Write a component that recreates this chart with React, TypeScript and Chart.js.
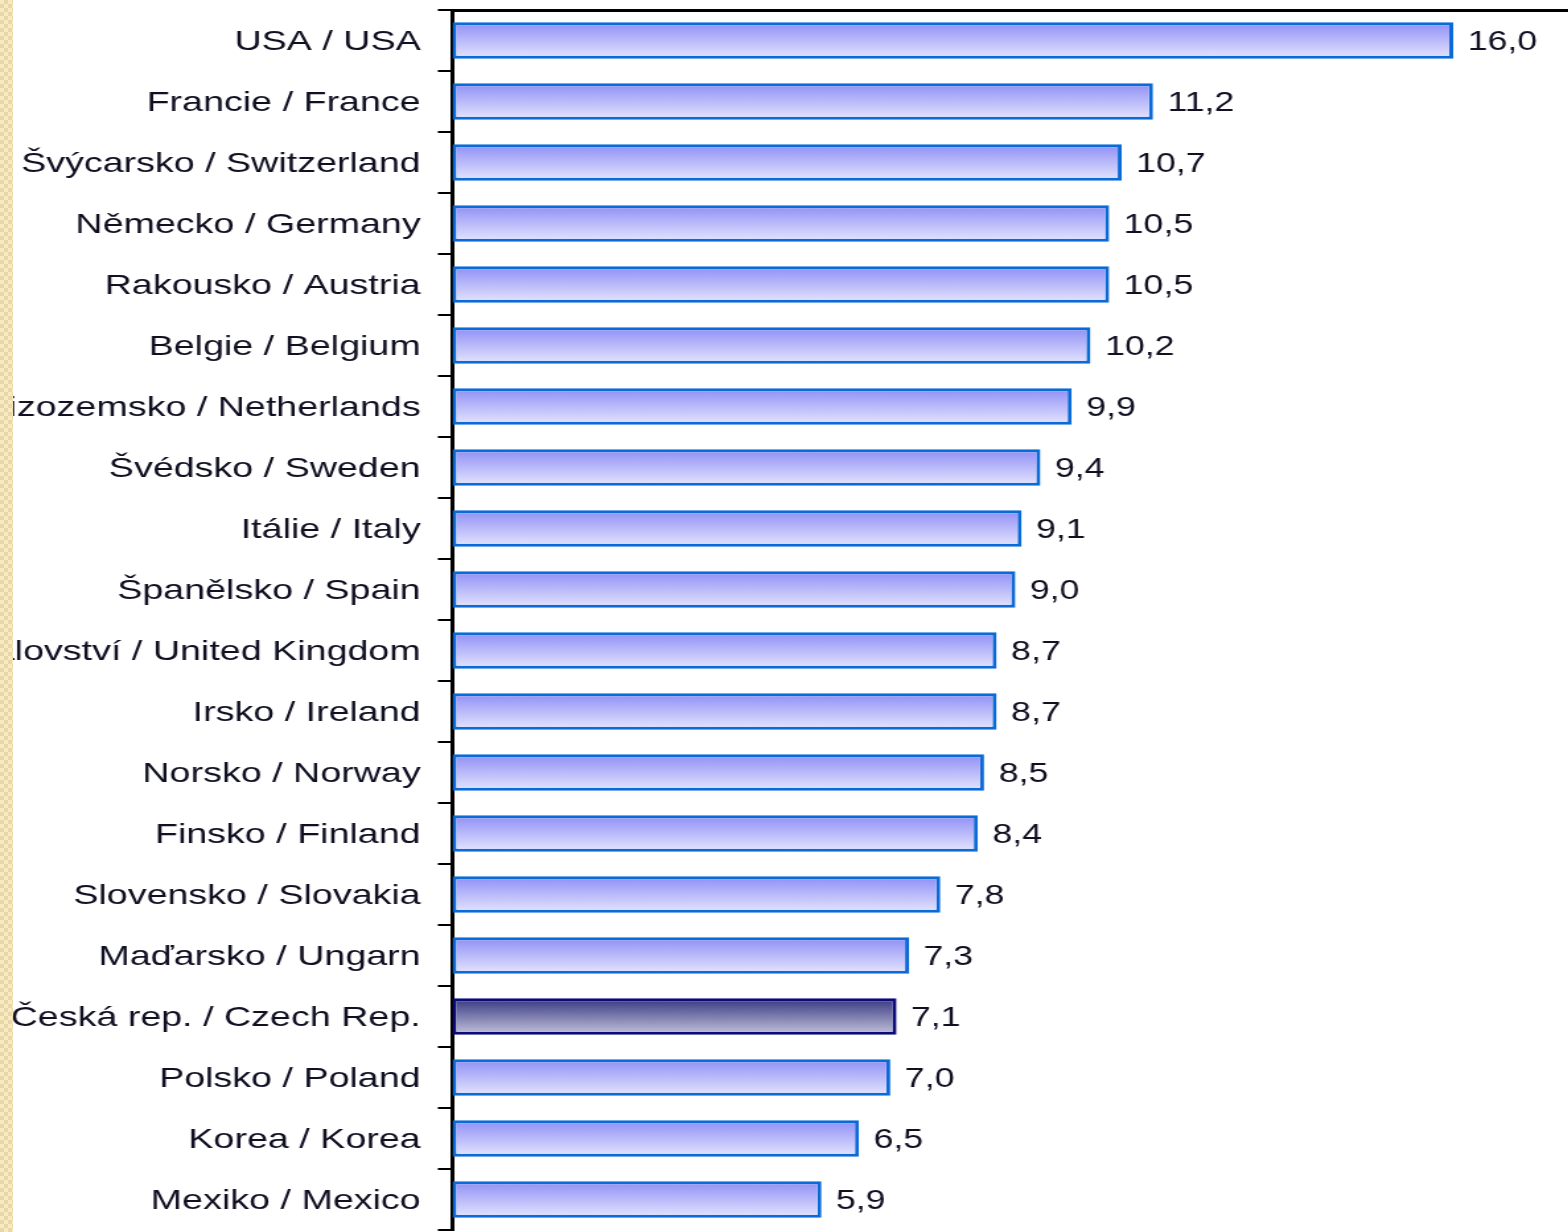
import React, { useEffect, useRef } from "react";
import { Chart, registerables } from "chart.js";

Chart.register(...registerables);

const categories: string[] = [
  "USA / USA",
  "Francie / France",
  "Švýcarsko / Switzerland",
  "Německo / Germany",
  "Rakousko / Austria",
  "Belgie / Belgium",
  "Nizozemsko / Netherlands",
  "Švédsko / Sweden",
  "Itálie / Italy",
  "Španělsko / Spain",
  "Spojené království / United Kingdom",
  "Irsko / Ireland",
  "Norsko / Norway",
  "Finsko / Finland",
  "Slovensko / Slovakia",
  "Maďarsko / Ungarn",
  "Česká rep. / Czech Rep.",
  "Polsko / Poland",
  "Korea / Korea",
  "Mexiko / Mexico",
];

const values: number[] = [
  16.0, 11.2, 10.7, 10.5, 10.5, 10.2, 9.9, 9.4, 9.1, 9.0, 8.7, 8.7, 8.5, 8.4,
  7.8, 7.3, 7.1, 7.0, 6.5, 5.9,
];

const highlighted: string = "Česká rep. / Czech Rep.";

const STRETCH = 1.32;
const SCREEN_W = 1568;
const SCREEN_H = 1232;
const INNER_W = SCREEN_W / STRETCH;
const AXIS_X = 452 / STRETCH;
const PX_PER_UNIT = 62.5 / STRETCH;
const X_MAX = (INNER_W - AXIS_X) / PX_PER_UNIT;

const FONT = "Arial, 'Liberation Sans', sans-serif";

const gradientPlugin = {
  id: "barGradient",
  beforeDatasetsDraw(chart: any) {
    const ctx = chart.ctx;
    const meta = chart.getDatasetMeta(0);
    meta.data.forEach((bar: any, i: number) => {
      const top = bar.y - bar.height / 2;
      const bottom = bar.y + bar.height / 2;
      const g = ctx.createLinearGradient(0, top, 0, bottom);
      if (categories[i] === highlighted) {
        g.addColorStop(0, "#363680");
        g.addColorStop(1, "#c4c4dc");
      } else {
        g.addColorStop(0, "#8e8ef6");
        g.addColorStop(1, "#e6e6fe");
      }
      bar.options = { ...bar.options, backgroundColor: g };
    });
  },
};

const valueLabelPlugin = {
  id: "valueLabels",
  afterDatasetsDraw(chart: any) {
    const ctx = chart.ctx;
    const meta = chart.getDatasetMeta(0);
    ctx.save();
    ctx.font = `27px ${FONT}`;
    ctx.fillStyle = "#101022";
    ctx.textAlign = "left";
    ctx.textBaseline = "middle";
    meta.data.forEach((bar: any, i: number) => {
      const txt = values[i].toFixed(1).replace(".", ",");
      ctx.fillText(txt, bar.x + 11, bar.y + 2);
    });
    ctx.restore();
  },
};

export default function App() {
  const canvasRef = useRef<HTMLCanvasElement | null>(null);

  useEffect(() => {
    document.body.style.margin = "0";
    const canvas = canvasRef.current;
    if (!canvas) return;
    const chart = new Chart(canvas, {
      type: "bar",
      data: {
        labels: categories,
        datasets: [
          {
            data: values,
            backgroundColor: "#8e8ef6",
            borderColor: categories.map((c) =>
              c === highlighted ? "#0a0a78" : "#0a6ad6"
            ),
            borderWidth: 3,
            borderSkipped: false,
            barPercentage: 0.6,
            categoryPercentage: 1,
          },
        ],
      },
      options: {
        indexAxis: "y",
        animation: false,
        responsive: true,
        maintainAspectRatio: false,
        devicePixelRatio: 1,
        layout: { padding: { top: 10, bottom: 2, left: 0, right: 0 } },
        plugins: {
          legend: { display: false },
          tooltip: { enabled: false },
          title: { display: false },
        },
        scales: {
          x: {
            position: "top",
            min: 0,
            max: X_MAX,
            ticks: { display: false },
            grid: { display: false },
            border: { display: true, color: "#000", width: 3 },
            afterFit(scale: any) {
              scale.height = 0;
              scale.paddingLeft = 0;
              scale.paddingRight = 0;
            },
          },
          y: {
            position: "left",
            offset: true,
            grid: {
              display: true,
              drawOnChartArea: false,
              drawTicks: true,
              tickLength: 11,
              color: "#000",
              lineWidth: 2,
            },
            border: { display: true, color: "#000", width: 3 },
            ticks: {
              autoSkip: false,
              padding: 13,
              labelOffset: 2,
              color: "#101022",
              font: { family: FONT, size: 28.5 },
            },
            afterFit(scale: any) {
              scale.width = AXIS_X;
              scale.paddingTop = 0;
              scale.paddingBottom = 0;
            },
          },
        },
      },
      plugins: [gradientPlugin, valueLabelPlugin],
    });
    return () => chart.destroy();
  }, []);

  return (
    <div
      style={{
        position: "relative",
        width: SCREEN_W,
        height: SCREEN_H,
        overflow: "hidden",
        background: "#fff",
      }}
    >
      <div
        style={{
          position: "absolute",
          left: 0,
          top: 0,
          width: INNER_W,
          height: SCREEN_H,
          transform: `scaleX(${STRETCH})`,
          transformOrigin: "0 0",
        }}
      >
        <canvas ref={canvasRef} />
      </div>
      <div
        style={{
          position: "absolute",
          left: 0,
          top: 0,
          width: 13,
          height: SCREEN_H,
          backgroundColor: "#f6eac6",
          backgroundImage:
            "linear-gradient(45deg, #ead7a4 25%, transparent 25%, transparent 75%, #ead7a4 75%), linear-gradient(45deg, #ead7a4 25%, transparent 25%, transparent 75%, #ead7a4 75%)",
          backgroundSize: "8px 8px",
          backgroundPosition: "0 0, 4px 4px",
        }}
      />
    </div>
  );
}
